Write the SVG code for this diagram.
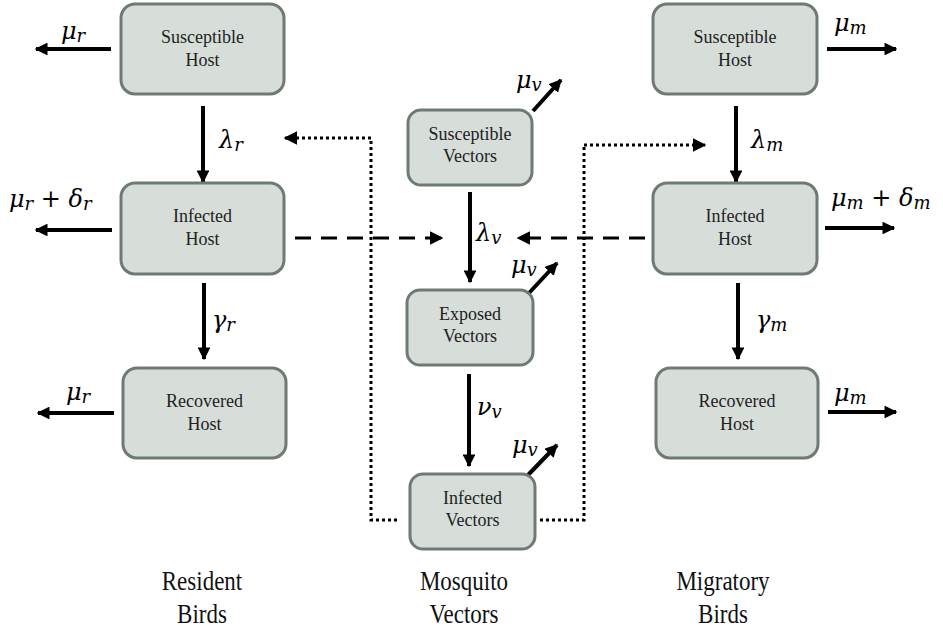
<svg xmlns="http://www.w3.org/2000/svg" width="943" height="631" viewBox="0 0 943 631">
<defs>
<marker id="ah" viewBox="0 0 10 10" refX="9" refY="5" markerWidth="3.2" markerHeight="3.2" orient="auto" markerUnits="strokeWidth">
<path d="M0,0 L10,5 L0,10 z" fill="#000"/>
</marker>
<marker id="ahs" viewBox="0 0 10 10" refX="9" refY="5" markerWidth="4.5" markerHeight="4.5" orient="auto" markerUnits="strokeWidth">
<path d="M0,0 L10,5 L0,10 z" fill="#000"/>
</marker>
</defs>
<style>
.box{fill:#d7ddd9;stroke:#6f7a72;stroke-width:3}
.nt{font-family:"Liberation Serif","Times New Roman",serif;font-size:18px;fill:#222;text-anchor:middle}
.gl{font-family:"Liberation Serif","Times New Roman",serif;font-size:23px;fill:#111;text-anchor:middle}
.m{font-family:"DejaVu Serif",serif;font-style:italic;font-size:24px;fill:#000}
.s{font-size:18px}
.arr{stroke:#000;stroke-width:4;fill:none;marker-end:url(#ah)}
.dot{stroke:#000;stroke-width:3;fill:none;stroke-dasharray:3 3;marker-end:url(#ahs)}
.dotn{stroke:#000;stroke-width:3;fill:none;stroke-dasharray:3 3}
.dash{stroke:#000;stroke-width:3;fill:none;stroke-dasharray:16 10;marker-end:url(#ahs)}
</style>
<rect width="943" height="631" fill="#fff"/>

<g id="connectors">
<path class="arr" d="M111,49 L36,49"/>
<path class="arr" d="M112,230 L36,230"/>
<path class="arr" d="M114,413 L38,413"/>
<path class="arr" d="M827,49 L896,49"/>
<path class="arr" d="M825,228 L894,228"/>
<path class="arr" d="M828,412 L896,412"/>
<path class="arr" d="M203,106 L203,182"/>
<path class="arr" d="M204,283 L204,359"/>
<path class="arr" d="M736,106 L736,182"/>
<path class="arr" d="M738,283 L738,359"/>
<path class="arr" d="M470,192 L470,282"/>
<path class="arr" d="M469,374 L469,466"/>
<path class="arr" d="M533,111 L561,80"/>
<path class="arr" d="M529,293 L557,263"/>
<path class="arr" d="M528,475 L557,445"/>
<path class="dotn" d="M397,520 L371,520 L371,138"/>
<path class="dot" d="M371,138 L285,138"/>
<path class="dotn" d="M540,520 L584,520 L584,145"/>
<path class="dot" d="M584,145 L705,145"/>
<path class="dash" d="M295,238 L442,238"/>
<path class="dash" d="M645,238 L518,238"/>
</g>

<g id="labels">
<text class="m" x="61" y="39">μ<tspan class="s" dy="3">r</tspan></text>
<text class="m" x="9" y="207">μ<tspan class="s" dy="3">r</tspan><tspan dy="-3"> + δ</tspan><tspan class="s" dy="3">r</tspan></text>
<text class="m" x="66" y="400">μ<tspan class="s" dy="3">r</tspan></text>
<text class="m" x="834" y="31">μ<tspan class="s" dy="3">m</tspan></text>
<text class="m" x="831" y="206">μ<tspan class="s" dy="3">m</tspan><tspan dy="-3"> + δ</tspan><tspan class="s" dy="3">m</tspan></text>
<text class="m" x="834" y="401">μ<tspan class="s" dy="3">m</tspan></text>
<text class="m" x="219" y="148">λ<tspan class="s" dy="3">r</tspan></text>
<text class="m" x="212" y="328">γ<tspan class="s" dy="3">r</tspan></text>
<text class="m" x="751" y="148">λ<tspan class="s" dy="3">m</tspan></text>
<text class="m" x="756" y="328">γ<tspan class="s" dy="3">m</tspan></text>
<text class="m" x="476" y="241">λ<tspan class="s" dy="3">v</tspan></text>
<text class="m" x="477" y="415">ν<tspan class="s" dy="3">v</tspan></text>
<text class="m" x="516" y="88">μ<tspan class="s" dy="3">v</tspan></text>
<text class="m" x="511" y="273">μ<tspan class="s" dy="3">v</tspan></text>
<text class="m" x="512" y="453">μ<tspan class="s" dy="3">v</tspan></text>
</g>

<g id="resident-susceptible"><rect class="box" x="121" y="4" width="163" height="90" rx="14"/><text class="nt" x="202.5" y="43">Susceptible</text><text class="nt" x="202.5" y="66">Host</text></g>
<g id="resident-infected"><rect class="box" x="121" y="183" width="163" height="91" rx="14"/><text class="nt" x="202.5" y="222">Infected</text><text class="nt" x="202.5" y="245">Host</text></g>
<g id="resident-recovered"><rect class="box" x="123" y="368" width="163" height="90" rx="14"/><text class="nt" x="204.5" y="407">Recovered</text><text class="nt" x="204.5" y="430">Host</text></g>
<g id="migratory-susceptible"><rect class="box" x="653" y="4" width="164" height="90" rx="14"/><text class="nt" x="735" y="43">Susceptible</text><text class="nt" x="735" y="66">Host</text></g>
<g id="migratory-infected"><rect class="box" x="653" y="183" width="164" height="91" rx="14"/><text class="nt" x="735" y="222">Infected</text><text class="nt" x="735" y="245">Host</text></g>
<g id="migratory-recovered"><rect class="box" x="656" y="368" width="162" height="90" rx="14"/><text class="nt" x="737" y="407">Recovered</text><text class="nt" x="737" y="430">Host</text></g>
<g id="susceptible-vectors"><rect class="box" x="408" y="110" width="124" height="75" rx="13"/><text class="nt" x="470" y="140">Susceptible</text><text class="nt" x="470" y="162">Vectors</text></g>
<g id="exposed-vectors"><rect class="box" x="407" y="290" width="126" height="75" rx="13"/><text class="nt" x="470" y="320">Exposed</text><text class="nt" x="470" y="342">Vectors</text></g>
<g id="infected-vectors"><rect class="box" x="410" y="474" width="125" height="75" rx="13"/><text class="nt" x="472.5" y="504">Infected</text><text class="nt" x="472.5" y="526">Vectors</text></g>

<g id="group-labels">
<text class="gl" transform="translate(202,590) scale(1,1.2)">Resident</text>
<text class="gl" transform="translate(202,623) scale(1,1.2)">Birds</text>
<text class="gl" transform="translate(464,590) scale(1,1.2)">Mosquito</text>
<text class="gl" transform="translate(464,623) scale(1,1.2)">Vectors</text>
<text class="gl" transform="translate(723,590) scale(1,1.2)">Migratory</text>
<text class="gl" transform="translate(723,623) scale(1,1.2)">Birds</text>
</g>
</svg>
